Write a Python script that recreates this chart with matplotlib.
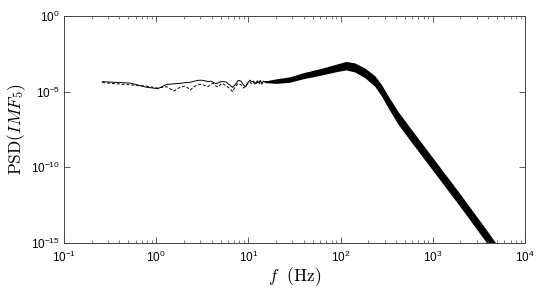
import numpy as np
import matplotlib
matplotlib.use('Agg')
import matplotlib.pyplot as plt
from matplotlib.ticker import NullLocator, LogLocator, FixedLocator

plt.rcParams['mathtext.fontset'] = 'cm'
plt.rcParams['font.family'] = ['Liberation Sans', 'DejaVu Sans']

# low frequency part, thin lines (log10 of PSD)
f_lo = [0.26, 0.52, 0.78, 1.04, 1.30, 1.56, 1.82, 2.08, 2.34, 2.60, 2.86, 3.12,
        3.38, 3.64, 3.90, 4.16, 4.42, 4.68, 4.94, 5.20, 5.72, 6.24, 6.76, 7.28,
        7.80, 8.32, 8.84, 9.36, 9.88, 10.4, 10.9, 11.4, 12.0, 12.5, 13.0, 13.5,
        14.0, 14.6]
solid_lo = [-4.34, -4.43, -4.70, -4.80, -4.52, -4.48, -4.45, -4.40, -4.38, -4.30,
            -4.25, -4.24, -4.28, -4.33, -4.30, -4.38, -4.46, -4.42, -4.36, -4.32,
            -4.36, -4.55, -4.72, -4.50, -4.25, -4.30, -4.55, -4.68, -4.40, -4.24,
            -4.35, -4.30, -4.45, -4.28, -4.40, -4.25, -4.45, -4.30]
dash_lo = [-4.40, -4.55, -4.63, -4.76, -4.67, -4.96, -4.70, -4.62, -4.89, -4.65,
           -4.55, -4.50, -4.60, -4.67, -4.52, -4.45, -4.62, -4.70, -4.55, -4.45,
           -4.60, -4.78, -5.00, -4.62, -4.45, -4.55, -4.76, -4.60, -4.45, -4.35,
           -4.50, -4.40, -4.55, -4.35, -4.50, -4.32, -4.50, -4.35]

# high frequency part: centre of the noisy band and its half width (decades)
f_band = [15, 20, 28, 39, 60, 91, 115, 143, 184, 236, 279, 329, 423, 560,
          1005, 1972, 3873, 5500]
band_mid = [-4.35, -4.30, -4.20, -3.95, -3.70, -3.42, -3.28, -3.40, -3.76, -4.30,
            -4.92, -5.68, -6.75, -7.75, -9.80, -12.16, -14.60, -15.90]
band_half = [0.05, 0.15, 0.18, 0.20, 0.22, 0.25, 0.28, 0.30, 0.32, 0.35,
             0.38, 0.40, 0.42, 0.42, 0.42, 0.42, 0.42, 0.42]

xticks = [1e-1, 1e0, 1e1, 1e2, 1e3, 1e4]
xticklabels = ['-1', '0', '1', '2', '3', '4']
yticks = [1e-15, 1e-10, 1e-5, 1e0]
yticklabels = ['-15', '-10', '-5', '0']

f_all = f_lo + f_band
solid = 10.0 ** np.array(solid_lo + band_mid)
dashed = 10.0 ** np.array(dash_lo + band_mid)
mid = np.array(band_mid)
half = np.array(band_half)

fig = plt.figure(figsize=(5.4, 2.92), dpi=100)
ax = fig.add_axes([0.1185, 0.168, 0.8535, 0.777])

ax.fill_between(f_band, 10.0 ** (mid - half), 10.0 ** (mid + half),
                color='k', lw=0)
ax.plot(f_all, dashed, color='k', lw=0.7, dashes=(3, 2))
ax.plot(f_all, solid, color='k', lw=0.7)

ax.set_xscale('log')
ax.set_yscale('log')
ax.set_xlim(1e-1, 1e4)
ax.set_ylim(1e-15, 1e0)

ax.xaxis.set_major_locator(FixedLocator(xticks))
ax.xaxis.set_minor_locator(LogLocator(base=10, subs=np.arange(2, 10), numticks=20))
ax.set_xticklabels([r'$\mathregular{10^{%s}}$' % s for s in xticklabels])
ax.yaxis.set_major_locator(FixedLocator(yticks))
ax.yaxis.set_minor_locator(NullLocator())
ax.set_yticklabels([r'$\mathregular{10^{%s}}$' % s for s in yticklabels])

ax.tick_params(which='both', direction='in', top=True, right=True,
               labelsize=8.5, color='#444444')
ax.tick_params(axis='x', pad=5)
ax.tick_params(axis='y', pad=3)
ax.tick_params(which='major', length=4, width=0.6)
ax.tick_params(which='minor', length=2.2, width=0.5)
for sp in ax.spines.values():
    sp.set_color('#444444')
    sp.set_linewidth(0.7)

ax.set_xlabel(r'$f\ \ (\mathrm{Hz})$', fontsize=12.5, labelpad=0)
ax.set_ylabel(r'$\mathrm{PSD}(IMF_5)$', fontsize=12.5, labelpad=2)

fig.savefig('out.png', dpi=100)
